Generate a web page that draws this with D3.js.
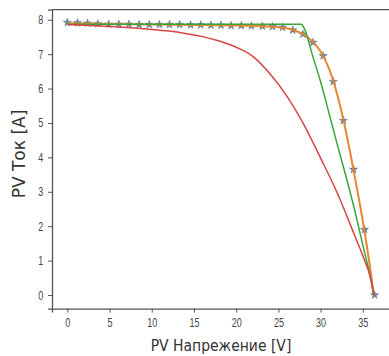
<!DOCTYPE html>
<html>
<head>
<meta charset="utf-8">
<script src="https://cdn.jsdelivr.net/npm/d3@7"></script>
<style>
  body { margin: 0; background: #fff; }
  #chartContainer { width: 389px; height: 356px; }
</style>
</head>
<body>
<div id="chartContainer"></div>
<script>
// Measured points (stars)
const measuredV = [0, 1.2, 2.4, 3.6, 4.9, 6.1, 7.3, 8.5, 9.7, 10.9, 12.1, 13.3, 14.6, 15.8, 17.0, 18.2,
  19.4, 20.6, 21.8, 23.1, 24.3, 25.5, 26.7, 27.9, 29.1, 30.3, 31.5, 32.7, 33.9, 35.2, 36.4];
const measuredI = [7.92, 7.91, 7.90, 7.88, 7.87, 7.87, 7.87, 7.86, 7.86, 7.86, 7.86, 7.86, 7.85, 7.85, 7.84, 7.84,
  7.83, 7.83, 7.82, 7.81, 7.80, 7.78, 7.70, 7.58, 7.34, 6.95, 6.20, 5.07, 3.65, 1.90, 0.0];

// Orange model
const orangeV = [0, 5, 10, 15, 20, 24, 26, 27, 28, 29, 30, 31, 32, 33, 34, 35, 36, 36.3];
const orangeI = [7.90, 7.88, 7.86, 7.85, 7.83, 7.80, 7.75, 7.68, 7.57, 7.38, 7.08, 6.58, 5.80, 4.75, 3.50, 2.15, 0.55, 0];

// Green model
const greenV = [0, 10, 20, 27.7, 28.0, 28.3, 28.6, 29, 30, 31, 32, 33, 34, 35, 36, 36.3];
const greenI = [7.87, 7.87, 7.87, 7.87, 7.78, 7.60, 7.35, 7.00, 6.20, 5.28, 4.35, 3.45, 2.50, 1.45, 0.40, 0];

// Red model
const redV = [0, 2, 4, 6, 8, 10, 12, 14, 16, 18, 20, 22, 24, 26, 28, 30, 32, 34, 35, 36, 36.3];
const redI = [7.86, 7.84, 7.82, 7.79, 7.76, 7.72, 7.67, 7.60, 7.51, 7.38, 7.20, 6.93, 6.43, 5.78, 4.96, 3.98, 2.95, 1.75, 1.14, 0.40, 0];

const xTicks = [0, 5, 10, 15, 20, 25, 30, 35];
const yTicks = [0, 1, 2, 3, 4, 5, 6, 7, 8];

const width = 389;
const height = 356;
const marginLeft = 52;
const marginTop = 9.6;
const plotRight = 390;
const plotBottom = 308.6;

const x = d3.scaleLinear([-1.82, 38.22], [marginLeft, plotRight]);
const y = d3.scaleLinear([-0.395, 8.295], [plotBottom, marginTop]);

const zip = (xs, ys) => xs.map((v, i) => [v, ys[i]]);

const svg = d3.create("svg")
  .attr("width", width)
  .attr("height", height)
  .attr("viewBox", [0, 0, width, height])
  .style("font-family", "DejaVu Sans, sans-serif");

svg.append("rect").attr("width", width).attr("height", height).attr("fill", "#fff");

// x-axis
svg.append("g")
  .attr("transform", `translate(0,${plotBottom})`)
  .call(d3.axisBottom(x).tickValues(xTicks).tickSize(4).tickPadding(6))
  .call(g => g.select(".domain").attr("stroke", "#555").attr("stroke-width", 1.3))
  .call(g => g.selectAll(".tick line").attr("stroke", "#555"))
  .call(g => g.selectAll(".tick text")
    .attr("fill", "#444").attr("font-size", 12.5)
    .attr("transform", "scale(0.72,1)"));

// y-axis
svg.append("g")
  .attr("transform", `translate(${marginLeft},0)`)
  .call(d3.axisLeft(y).tickValues(yTicks).tickSize(4).tickPadding(8))
  .call(g => g.select(".domain").attr("stroke", "#555").attr("stroke-width", 1.3))
  .call(g => g.selectAll(".tick line").attr("stroke", "#555"))
  .call(g => g.selectAll(".tick text")
    .attr("fill", "#444").attr("font-size", 12.5)
    .attr("transform", "scale(0.72,1)"));

// top spine
svg.append("line")
  .attr("x1", marginLeft).attr("x2", plotRight)
  .attr("y1", marginTop).attr("y2", marginTop)
  .attr("stroke", "#555").attr("stroke-width", 1.3);

const line = d3.line()
  .x(d => x(d[0]))
  .y(d => y(d[1]))
  .curve(d3.curveMonotoneX);

// measured stars
svg.append("g")
  .selectAll("path")
  .data(zip(measuredV, measuredI))
  .join("path")
  .attr("transform", d => `translate(${x(d[0])},${y(d[1])})`)
  .attr("d", d3.symbol(d3.symbolStar, 20))
  .attr("fill", "#617fa3")
  .attr("stroke", "#51708f")
  .attr("stroke-width", 0.5);

svg.append("path")
  .attr("fill", "none")
  .attr("stroke", "#e8872e")
  .attr("stroke-width", 2)
  .attr("d", line(zip(orangeV, orangeI)));

svg.append("path")
  .attr("fill", "none")
  .attr("stroke", "#3aa63a")
  .attr("stroke-width", 1.5)
  .attr("d", line(zip(greenV, greenI)));

svg.append("path")
  .attr("fill", "none")
  .attr("stroke", "#d64545")
  .attr("stroke-width", 1.5)
  .attr("d", line(zip(redV, redI)));

// axis labels
svg.append("text")
  .attr("transform", "translate(221,351) scale(0.9,1)")
  .attr("text-anchor", "middle")
  .attr("fill", "#333")
  .attr("font-size", 15.5)
  .text("PV Напрежение [V]");

svg.append("text")
  .attr("transform", "translate(25,154) rotate(-90)")
  .attr("text-anchor", "middle")
  .attr("fill", "#333")
  .attr("font-size", 17)
  .text("PV Ток [A]");

document.getElementById("chartContainer").append(svg.node());
</script>
</body>
</html>
